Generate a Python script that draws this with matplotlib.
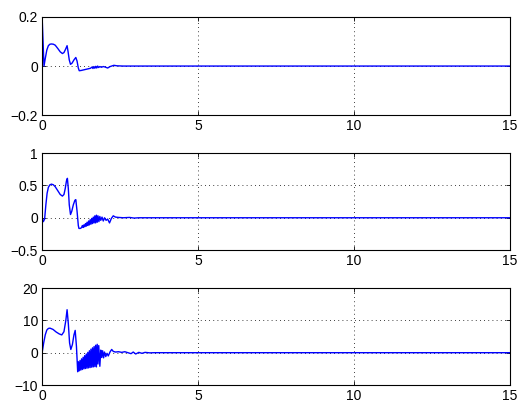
import matplotlib
matplotlib.use("Agg")
import matplotlib.pyplot as plt

plt.rcParams['font.family'] = ['Liberation Sans', 'DejaVu Sans']

# Panel 1 (top)
t1 = [0, 0.03, 0.06, 0.1, 0.15, 0.2, 0.25, 0.3, 0.36, 0.42, 0.5, 0.58, 0.65, 0.7, 0.75,
      0.8, 0.83, 0.87, 0.91, 0.96, 1.02, 1.08, 1.12, 1.16, 1.19, 1.25, 1.35, 1.45, 1.55,
      1.6, 1.63, 1.66, 1.69, 1.72, 1.75, 1.78, 1.81, 1.85, 1.9, 1.96, 2.02, 2.1, 2.18,
      2.3, 2.4, 2.6, 15]
y1 = [0.2, 0.1, 0.0, 0.03, 0.065, 0.083, 0.089, 0.09, 0.089, 0.085, 0.072, 0.058, 0.051, 0.055, 0.068,
      0.083, 0.06, 0.025, 0.007, 0.012, 0.025, 0.035, 0.02, -0.008, -0.019, -0.018, -0.015, -0.012, -0.009,
      -0.004, -0.01, -0.002, -0.009, -0.001, -0.008, 0.0, -0.006, -0.002, -0.005, -0.002, -0.004, -0.008, -0.002,
      0.003, 0.001, 0.0, 0.0]

# Panel 2 (middle)
t2 = [0, 0.04, 0.08, 0.12, 0.16, 0.2, 0.25, 0.3, 0.36, 0.42, 0.5, 0.58, 0.65, 0.7, 0.74,
      0.78, 0.81, 0.84, 0.87, 0.91, 0.95, 1.0, 1.05, 1.08, 1.12, 1.16, 1.18, 1.22, 1.26,
      1.29, 1.315, 1.34, 1.365, 1.39, 1.415, 1.44, 1.465, 1.49, 1.515, 1.54, 1.565, 1.59,
      1.615, 1.64, 1.665, 1.69, 1.715, 1.74, 1.765, 1.79, 1.82, 1.85, 1.88, 1.92, 1.96,
      2.0, 2.05, 2.1, 2.16, 2.22, 2.28, 2.35, 2.45, 2.6, 2.8, 2.95, 3.1, 15]
y2 = [0, -0.06, -0.02, 0.2, 0.38, 0.47, 0.51, 0.52, 0.51, 0.48, 0.42, 0.36, 0.335, 0.36, 0.45,
      0.57, 0.61, 0.45, 0.2, 0.05, 0.1, 0.2, 0.27, 0.28, 0.1, -0.12, -0.165, -0.165, -0.155,
      -0.12, -0.15, -0.11, -0.14, -0.09, -0.13, -0.07, -0.12, -0.05, -0.11, -0.03, -0.1, -0.01,
      -0.09, 0.01, -0.08, 0.03, -0.08, 0.04, -0.07, 0.03, -0.06, 0.02, -0.04, 0.01, -0.05,
      0.0, -0.04, -0.02, -0.08, -0.01, 0.03, 0.01, 0.005, 0.0, 0.005, -0.005, 0.0, 0.0]

# Panel 3 (bottom)
t3 = [0, 0.05, 0.1, 0.15, 0.2, 0.25, 0.35, 0.45, 0.55, 0.63, 0.7, 0.76, 0.8, 0.84, 0.88,
      0.92, 0.97, 1.02, 1.06, 1.1, 1.14,
      1.165, 1.19, 1.215, 1.24, 1.265, 1.29, 1.315, 1.34, 1.365, 1.39, 1.415, 1.44, 1.465,
      1.49, 1.515, 1.54, 1.565, 1.59, 1.615, 1.64, 1.665, 1.69, 1.715, 1.74, 1.765, 1.79,
      1.815, 1.85, 1.88, 1.91, 1.94, 1.97, 2.0, 2.04, 2.08, 2.12, 2.18, 2.23, 2.28, 2.35,
      2.45, 2.55, 2.65, 2.75, 2.85, 2.92, 3.0, 3.1, 3.2, 3.3, 3.45, 3.6, 15]
y3 = [0, 3.0, 5.5, 7.0, 7.5, 7.6, 7.2, 6.4, 5.8, 5.5, 6.5, 10.0, 13.3, 9.0, 3.0,
      1.0, 2.5, 5.5, 6.9, 2.0, -5.9,
      -2.8, -5.6, -2.4, -5.4, -1.9, -5.2, -1.4, -5.0, -0.9, -4.9, -0.4, -4.8, 0.1,
      -4.7, 0.6, -4.6, 1.1, -4.5, 1.5, -4.4, 1.9, -4.3, 2.3, -4.4, 2.6, -3.5,
      2.2, -4.2, 0.8, -1.5, 0.6, -1.6, 0.2, -1.2, -0.2, -1.0, 0.3, 1.0, 0.4, 0.2,
      0.3, 0.1, 0.3, 0.0, -0.3, 0.2, -0.4, 0.1, -0.2, 0.1, -0.05, 0.0, 0.0]

panels = [
    (t1, y1, (-0.2, 0.2), [-0.2, 0, 0.2], ['\u22120.2', '0', '0.2']),
    (t2, y2, (-0.5, 1.0), [-0.5, 0, 0.5, 1], ['\u22120.5', '0', '0.5', '1']),
    (t3, y3, (-10, 20), [-10, 0, 10, 20], ['\u221210', '0', '10', '20']),
]
xticks = [0, 5, 10, 15]

fig = plt.figure(figsize=(5.2, 4.04), dpi=100)
boxes = [(0.081, 0.715, 0.900, 0.243),
         (0.081, 0.381, 0.900, 0.240),
         (0.081, 0.047, 0.900, 0.240)]

for (t, y, ylim, yt, ytl), box in zip(panels, boxes):
    ax = fig.add_axes(box)
    ax.plot(t, y, color='#0000ff', lw=1.0, clip_on=True)
    ax.set_xlim(0, 15)
    ax.set_ylim(*ylim)
    ax.set_xticks(xticks)
    ax.set_xticklabels([str(v) for v in xticks])
    ax.set_yticks(yt)
    ax.set_yticklabels(ytl)
    ax.grid(True, color='black', linestyle=(0, (1, 4)), linewidth=0.6)
    ax.tick_params(direction='in', length=3, top=True, right=True, labelsize=10,
                   width=0.6, pad=3)
    for s in ax.spines.values():
        s.set_linewidth(0.8)

fig.savefig('out.png', dpi=100)
